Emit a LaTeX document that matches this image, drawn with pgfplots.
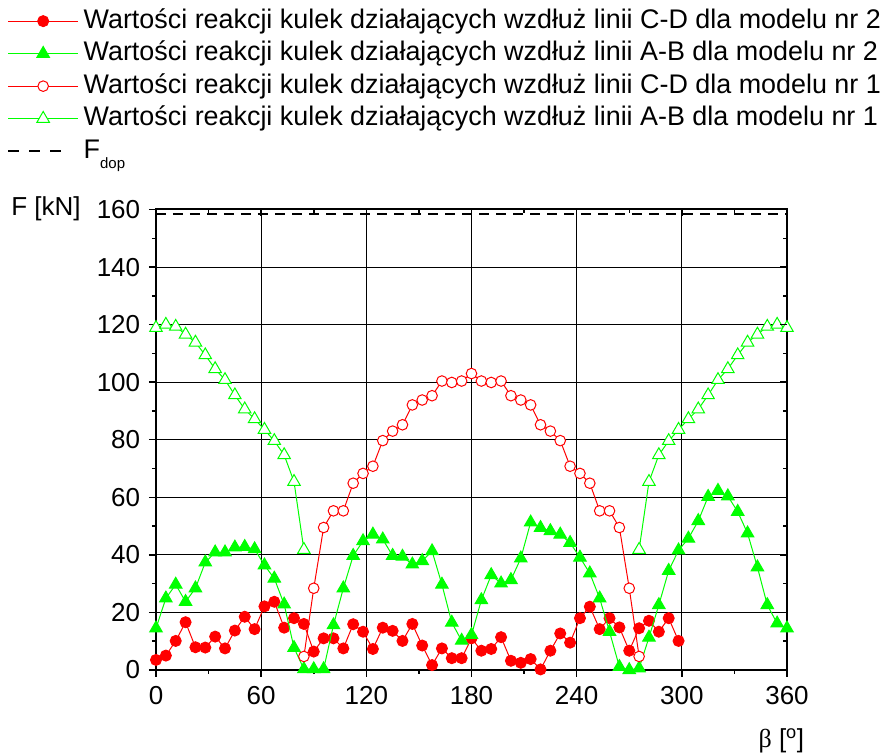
\documentclass[border=0pt]{standalone}
\usepackage{fontspec}
\setmainfont{Liberation Sans}
\newfontfamily\serifb{Liberation Serif}
\usepackage{pgfplots}
\usepackage{pgfplotstable}
\pgfplotsset{compat=1.18}
\definecolor{lred}{RGB}{255,0,0}
\definecolor{lgreen}{RGB}{0,255,0}

\pgfplotstableread{
x cdtwo abtwo cdone abone
0 3.5 14.5 nan 118.9
5.625 5.0 24.9 nan 120.0
11.25 10.1 29.7 nan 119.3
16.875 16.6 23.7 nan 116.6
22.5 7.9 28.4 nan 113.8
28.125 7.8 37.4 nan 109.4
33.75 11.6 40.9 nan 104.6
39.375 7.5 40.9 nan 100.8
45 13.7 42.6 nan 95.5
50.625 18.5 42.8 nan 90.6
56.25 14.2 42.0 nan 87.2
61.875 22.1 36.4 nan 83.5
67.5 23.7 31.8 nan 79.6
73.125 14.7 22.8 nan 74.7
78.75 18.0 7.7 nan 65.4
84.375 16.0 0.3 4.7 41.8
90 6.4 0.3 28.4 nan
95.625 11.0 0.3 49.5 nan
101.25 11.0 15.6 55.3 nan
106.875 7.5 28.4 55.3 nan
112.5 15.9 39.7 64.9 nan
118.125 13.3 44.8 68.3 nan
123.75 7.3 47.1 70.8 nan
129.375 14.7 45.4 79.7 nan
135 13.6 39.7 83.0 nan
140.625 10.1 39.4 85.2 nan
146.25 16.0 36.7 92.1 nan
151.875 8.5 37.9 93.8 nan
157.5 1.7 41.3 95.3 nan
163.125 7.5 29.7 100.4 nan
168.75 4.1 16.5 99.9 nan
174.375 4.1 10.2 100.4 nan
180 11.0 12.2 103.0 nan
185.625 6.7 24.3 100.4 nan
191.25 7.3 33.0 99.9 nan
196.875 11.4 30.1 100.4 nan
202.5 3.2 31.3 95.3 nan
208.125 2.5 38.8 93.8 nan
213.75 3.8 51.3 92.1 nan
219.375 0.2 49.4 85.2 nan
225 6.7 48.3 83.0 nan
230.625 12.7 47.1 79.7 nan
236.25 9.5 44.2 70.8 nan
241.875 18.0 39.1 68.3 nan
247.5 22.0 33.6 64.9 nan
253.125 14.2 24.9 55.3 nan
258.75 18.0 13.3 55.3 nan
264.375 14.8 1.1 49.5 nan
270 6.7 0.0 28.4 nan
275.625 14.5 0.6 4.7 41.8
281.25 17.1 11.3 nan 65.4
286.875 13.3 22.6 nan 74.7
292.5 18.0 34.5 nan 79.6
298.125 10.1 41.6 nan 83.5
303.75 nan 45.7 nan 87.2
309.375 nan 51.8 nan 90.6
315 nan 60.2 nan 95.5
320.625 nan 62.3 nan 100.8
326.25 nan 60.4 nan 104.6
331.875 nan 55.0 nan 109.4
337.5 nan 47.5 nan 113.8
343.125 nan 35.7 nan 116.6
348.75 nan 22.6 nan 119.3
354.375 nan 16.2 nan 120.0
360 nan 14.5 nan 118.9
}\datatab

\begin{document}
\fontsize{26}{31}\selectfont
\begin{tikzpicture}
\path[use as bounding box] (-156pt,-84pt) rectangle (725pt,670pt);
\begin{axis}[
  at={(0pt,0pt)}, anchor=south west,
  scale only axis, width=631pt, height=460.5pt,
  xmin=0, xmax=360, ymin=0, ymax=160,
  xtick={0,60,...,360}, ytick={0,20,...,160},
  minor x tick num=1, minor y tick num=1,
  xtick pos=left, ytick pos=left,
  tick align=outside,
  major tick length=7pt, minor tick length=4pt,
  tick style={black, line width=1.5pt},
  grid=major, major grid style={black, line width=0.9pt},
  axis line style={line width=2pt},
  /pgf/number format/assume math mode=true,
  tick label style={font=\fontsize{26}{31}\selectfont},
  clip mode=individual,
  unbounded coords=jump,
  ylabel={F [kN]},
  ylabel style={rotate=-90, at={(axis description cs:-0.1743,0.988)}, anchor=base, font=\fontsize{26}{31}\selectfont},
  xlabel={{\serifb β} [\textsuperscript{o}]},
  xlabel style={at={(axis description cs:0.991,-0.168)}, anchor=base, font=\fontsize{26}{31}\selectfont},
  legend style={at={(axis description cs:-0.2409,1.4420)}, anchor=north west,
    draw=none, fill=none, row sep=6.5pt, column sep=5pt,
    nodes={inner sep=0pt, text height=20pt, text depth=6pt},
    font=\fontsize{26.9}{32}\selectfont},
  legend cell align=left,
  legend image code/.code={\draw[mark repeat=2,mark phase=2] plot coordinates {(0pt,0pt) (35pt,0pt) (70pt,0pt)};},
]
\addplot[lred, line width=1pt, mark=*, mark size=5.5pt, mark options={solid, fill=lred}] table[x=x, y=cdtwo] {\datatab};
\addlegendentry{Wartości reakcji kulek działających wzdłuż linii C-D dla modelu nr 2}
\addplot[lgreen, line width=1pt, mark=triangle*, mark size=7.2pt, mark options={solid, fill=lgreen}] table[x=x, y=abtwo] {\datatab};
\addlegendentry{Wartości reakcji kulek działających wzdłuż linii A-B dla modelu nr 2}
\addplot[lred, line width=1pt, mark=*, mark size=5.3pt, mark options={solid, fill=white}] table[x=x, y=cdone] {\datatab};
\addlegendentry{Wartości reakcji kulek działających wzdłuż linii C-D dla modelu nr 1}
\addplot[lgreen, line width=1pt, mark=triangle*, mark size=7.2pt, mark options={solid, fill=white}] table[x=x, y=abone] {\datatab};
\addlegendentry{Wartości reakcji kulek działających wzdłuż linii A-B dla modelu nr 1}
\addplot[black, line width=2pt, dash pattern=on 10pt off 7pt, legend image code/.code={\draw[dash pattern=on 11pt off 10pt] (0pt,0pt) -- (53pt,0pt);}] coordinates {(0,158.5) (360,158.5)};
\addlegendentry{F\raisebox{-10pt}{\fontsize{15}{15}\selectfont dop}}
\end{axis}
\begin{axis}[
  at={(0pt,0pt)}, anchor=south west,
  scale only axis, width=631pt, height=460.5pt,
  xmin=0, xmax=360, ymin=0, ymax=160,
  xtick={0,60,...,360}, ytick={0,20,...,160},
  minor x tick num=1, minor y tick num=1,
  xtick pos=right, ytick pos=right,
  tick align=inside,
  major tick length=7pt, minor tick length=4pt,
  tick style={black, line width=1.5pt},
  xticklabels={}, yticklabels={},
  axis line style={draw=none},
]
\end{axis}
\end{tikzpicture}
\end{document}
